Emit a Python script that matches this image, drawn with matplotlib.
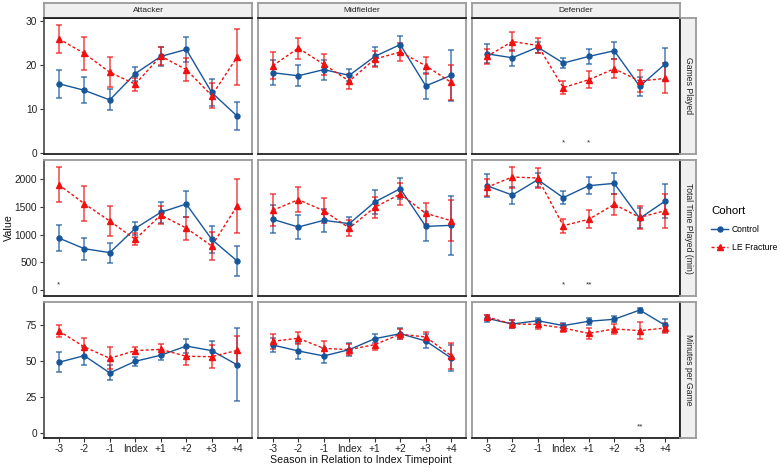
import matplotlib
matplotlib.use('Agg')
import matplotlib.pyplot as plt
from matplotlib.lines import Line2D

plt.rcParams['font.family'] = ['Liberation Sans', 'DejaVu Sans']

seasons = ['-3', '-2', '-1', 'Index', '+1', '+2', '+3', '+4']
positions = ['Attacker', 'Midfielder', 'Defender']
metrics = ['Games Played', 'Total Time Played (min)', 'Minutes per Game']
cohorts = ['Control', 'LE Fracture']

# ---- Games Played ----
gp_att_ctrl = [15.8, 14.3, 12.1, 18.1, 22.0, 23.6, 13.8, 8.4]
gp_att_ctrl_err = [3.2, 3.0, 2.4, 1.6, 2.2, 2.8, 3.0, 3.2]
gp_att_le = [26.0, 22.7, 18.4, 15.7, 22.1, 19.0, 13.1, 21.9]
gp_att_le_err = [3.2, 3.8, 3.4, 1.5, 2.0, 2.7, 2.9, 6.4]
gp_mid_ctrl = [18.3, 17.6, 19.0, 17.7, 22.0, 24.7, 15.3, 17.7]
gp_mid_ctrl_err = [2.9, 2.4, 2.3, 1.4, 2.2, 2.0, 2.9, 5.8]
gp_mid_le = [19.9, 23.9, 20.2, 16.4, 21.4, 23.0, 19.9, 16.1]
gp_mid_le_err = [3.1, 2.4, 2.4, 1.7, 1.9, 2.1, 2.0, 4.0]
gp_def_ctrl = [22.6, 21.7, 24.1, 20.5, 22.0, 23.3, 15.2, 20.3]
gp_def_ctrl_err = [2.2, 1.8, 1.3, 1.2, 1.7, 1.9, 2.1, 3.6]
gp_def_le = [22.0, 25.4, 24.5, 14.9, 16.7, 19.2, 16.4, 17.0]
gp_def_le_err = [1.8, 2.1, 1.8, 1.5, 1.9, 2.2, 2.5, 3.4]

# ---- Total Time Played (min) ----
tt_att_ctrl = [937, 746, 675, 1110, 1397, 1546, 913, 525]
tt_att_ctrl_err = [240, 195, 180, 120, 190, 233, 248, 262]
tt_att_le = [1892, 1552, 1242, 913, 1349, 1116, 794, 1516]
tt_att_le_err = [315, 310, 265, 108, 155, 206, 248, 486]
tt_mid_ctrl = [1272, 1134, 1254, 1194, 1582, 1821, 1146, 1164]
tt_mid_ctrl_err = [248, 212, 206, 119, 209, 188, 262, 525]
tt_mid_le = [1433, 1624, 1427, 1116, 1487, 1725, 1379, 1248]
tt_mid_le_err = [287, 224, 224, 140, 183, 200, 185, 367]
tt_def_ctrl = [1875, 1707, 1982, 1660, 1875, 1916, 1290, 1600]
tt_def_ctrl_err = [203, 153, 125, 116, 153, 185, 182, 310]
tt_def_le = [1845, 2030, 2012, 1158, 1272, 1540, 1307, 1427]
tt_def_le_err = [158, 188, 182, 128, 164, 194, 212, 305]

# ---- Minutes per Game ----
mpg_att_ctrl = [49.3, 53.9, 41.9, 50.0, 54.2, 60.6, 57.4, 47.5]
mpg_att_ctrl_err = [7.0, 6.3, 5.2, 3.0, 3.4, 5.0, 6.5, 25.3]
mpg_att_le = [71.1, 60.0, 52.1, 57.4, 58.3, 53.5, 53.2, 57.6]
mpg_att_le_err = [4.4, 6.4, 7.7, 2.3, 3.6, 5.8, 7.9, 9.7]
mpg_mid_ctrl = [61.3, 57.2, 53.7, 58.1, 65.7, 69.2, 64.1, 52.3]
mpg_mid_ctrl_err = [4.7, 5.3, 5.2, 4.3, 3.1, 3.9, 5.1, 9.2]
mpg_mid_le = [63.9, 66.0, 59.0, 58.1, 61.6, 68.8, 66.9, 53.9]
mpg_mid_le_err = [5.4, 4.2, 5.4, 4.0, 3.7, 3.4, 3.2, 9.0]
mpg_def_ctrl = [79.9, 75.9, 78.2, 74.8, 77.8, 79.2, 85.6, 75.0]
mpg_def_ctrl_err = [2.5, 2.6, 1.7, 1.5, 2.3, 2.0, 1.7, 4.5]
mpg_def_le = [80.8, 75.9, 75.7, 73.1, 69.4, 72.5, 71.3, 73.1]
mpg_def_le_err = [1.4, 3.0, 3.1, 2.6, 3.8, 3.7, 5.7, 3.6]

# significance annotations
star_metric = ['Games Played', 'Games Played', 'Total Time Played (min)',
               'Total Time Played (min)', 'Total Time Played (min)', 'Minutes per Game']
star_position = ['Defender', 'Defender', 'Attacker', 'Defender', 'Defender', 'Defender']
star_season = ['Index', '+1', '-3', 'Index', '+1', '+3']
star_label = ['*', '*', '*', '*', '**', '**']
star_y = [2.3, 2.3, 100, 100, 100, 4.6]

row_ticks = {
    'Games Played': [0, 10, 20, 30],
    'Total Time Played (min)': [0, 500, 1000, 1500, 2000],
    'Minutes per Game': [0, 25, 50, 75],
}
row_ylim = {
    'Games Played': (-0.2, 30.75),
    'Total Time Played (min)': (-102, 2335),
    'Minutes per Game': (-3.3, 91.2),
}

data = {
    'Games Played': {
        'Attacker': {'Control': (gp_att_ctrl, gp_att_ctrl_err), 'LE Fracture': (gp_att_le, gp_att_le_err)},
        'Midfielder': {'Control': (gp_mid_ctrl, gp_mid_ctrl_err), 'LE Fracture': (gp_mid_le, gp_mid_le_err)},
        'Defender': {'Control': (gp_def_ctrl, gp_def_ctrl_err), 'LE Fracture': (gp_def_le, gp_def_le_err)},
    },
    'Total Time Played (min)': {
        'Attacker': {'Control': (tt_att_ctrl, tt_att_ctrl_err), 'LE Fracture': (tt_att_le, tt_att_le_err)},
        'Midfielder': {'Control': (tt_mid_ctrl, tt_mid_ctrl_err), 'LE Fracture': (tt_mid_le, tt_mid_le_err)},
        'Defender': {'Control': (tt_def_ctrl, tt_def_ctrl_err), 'LE Fracture': (tt_def_le, tt_def_le_err)},
    },
    'Minutes per Game': {
        'Attacker': {'Control': (mpg_att_ctrl, mpg_att_ctrl_err), 'LE Fracture': (mpg_att_le, mpg_att_le_err)},
        'Midfielder': {'Control': (mpg_mid_ctrl, mpg_mid_ctrl_err), 'LE Fracture': (mpg_mid_le, mpg_mid_le_err)},
        'Defender': {'Control': (mpg_def_ctrl, mpg_def_ctrl_err), 'LE Fracture': (mpg_def_le, mpg_def_le_err)},
    },
}

BLUE = '#17569b'
RED = '#f01010'
DASH = (0, (2.2, 1.6))
style = {
    'Control': dict(color=BLUE, marker='o', ls='-', ms=3.6),
    'LE Fracture': dict(color=RED, marker='^', ls=DASH, ms=4.2),
}
BORDER = '#9a9a9a'

W, H = 780, 468
fig = plt.figure(figsize=(W / 100, H / 100), dpi=100)

col_x = [44, 258, 472]
panel_w = 208
row_y = [18, 160, 302]
panel_h = 136

def fx(px):
    return px / W

def fy(py):
    return 1 - py / H

xs = list(range(len(seasons)))

for r, metric in enumerate(metrics):
    for c, pos in enumerate(positions):
        ax = fig.add_axes([fx(col_x[c]), fy(row_y[r] + panel_h), fx(panel_w), panel_h / H])
        for coh in cohorts:
            m, e = data[metric][pos][coh]
            st = style[coh]
            ax.errorbar(xs, m, yerr=e, fmt='none', ecolor=st['color'], alpha=0.7,
                        elinewidth=1.2, capsize=2.2, capthick=1.2, zorder=2)
            ax.plot(xs, m, color=st['color'], ls=st['ls'], lw=1.0, zorder=3)
            ax.plot(xs, m, color=st['color'], marker=st['marker'], ls='none',
                    ms=st['ms'], zorder=4)
        for sm, sp, ss, sl, sy in zip(star_metric, star_position, star_season, star_label, star_y):
            if sm == metric and sp == pos:
                ax.text(seasons.index(ss), sy, sl, ha='center', va='center',
                        fontsize=6, color='#333333')
        ax.set_xlim(-0.58, 7.58)
        ax.set_ylim(*row_ylim[metric])
        ax.set_yticks(row_ticks[metric])
        ax.set_xticks(xs)
        for side in ['top', 'right', 'left', 'bottom']:
            ax.spines[side].set_color(BORDER)
            ax.spines[side].set_linewidth(1.3)
        ax.spines['bottom'].set_color('#222222')
        if r == 0:
            ax.spines['top'].set_color('#222222')
        if c == 2:
            ax.spines['right'].set_color('#222222')
        if c == 0:
            ax.spines['left'].set_color('#555555')
            ax.tick_params(axis='y', labelsize=7.3, length=3, color='#333333',
                           labelcolor='#222222', pad=2)
        else:
            ax.tick_params(axis='y', left=False, labelleft=False)
        if r == 2:
            ax.set_xticklabels(seasons)
            ax.tick_params(axis='x', labelsize=7.3, length=3, color='#333333',
                           labelcolor='#222222', pad=1.5)
        else:
            ax.tick_params(axis='x', bottom=False, labelbottom=False)

# top strips
for c, pos in enumerate(positions):
    sax = fig.add_axes([fx(col_x[c]), fy(18), fx(panel_w), 15 / H])
    sax.set_facecolor('#f0f0f0')
    sax.set_xticks([])
    sax.set_yticks([])
    for side in ['top', 'right', 'left']:
        sax.spines[side].set_color(BORDER)
        sax.spines[side].set_linewidth(1.3)
    sax.spines['bottom'].set_color('#222222')
    sax.spines['bottom'].set_linewidth(1.3)
    sax.text(0.5, 0.5, pos, ha='center', va='center', fontsize=6,
             color='#222222', transform=sax.transAxes)

# right strips
for r, metric in enumerate(metrics):
    sax = fig.add_axes([fx(680), fy(row_y[r] + panel_h), fx(16), panel_h / H])
    sax.set_facecolor('#f0f0f0')
    sax.set_xticks([])
    sax.set_yticks([])
    for side in ['top', 'right', 'bottom']:
        sax.spines[side].set_color(BORDER)
        sax.spines[side].set_linewidth(1.3)
    sax.spines['left'].set_color('#222222')
    sax.spines['left'].set_linewidth(1.3)
    sax.text(0.5, 0.5, metric, ha='center', va='center', fontsize=6.2,
             rotation=-90, color='#222222', transform=sax.transAxes)

# axis titles
fig.text(fx(361), fy(460), 'Season in Relation to Index Timepoint', ha='center',
         va='center', fontsize=7.7, color='#111111')
fig.text(fx(9), fy(228), 'Value', ha='center', va='center', rotation=90,
         fontsize=7.7, color='#111111')

# legend
handles = [Line2D([0], [0], color=style[c]['color'], ls=style[c]['ls'],
                  marker=style[c]['marker'], ms=style[c]['ms'], lw=1.0) for c in cohorts]
leg = fig.legend(handles, cohorts, title='Cohort', loc='upper left',
                 bbox_to_anchor=(fx(708), fy(203)), frameon=False, fontsize=6.2,
                 title_fontsize=8.2, handlelength=1.9, handletextpad=0.5,
                 labelspacing=1.0, borderaxespad=0)
leg._legend_box.align = 'left'

fig.savefig('out.png', dpi=100)
